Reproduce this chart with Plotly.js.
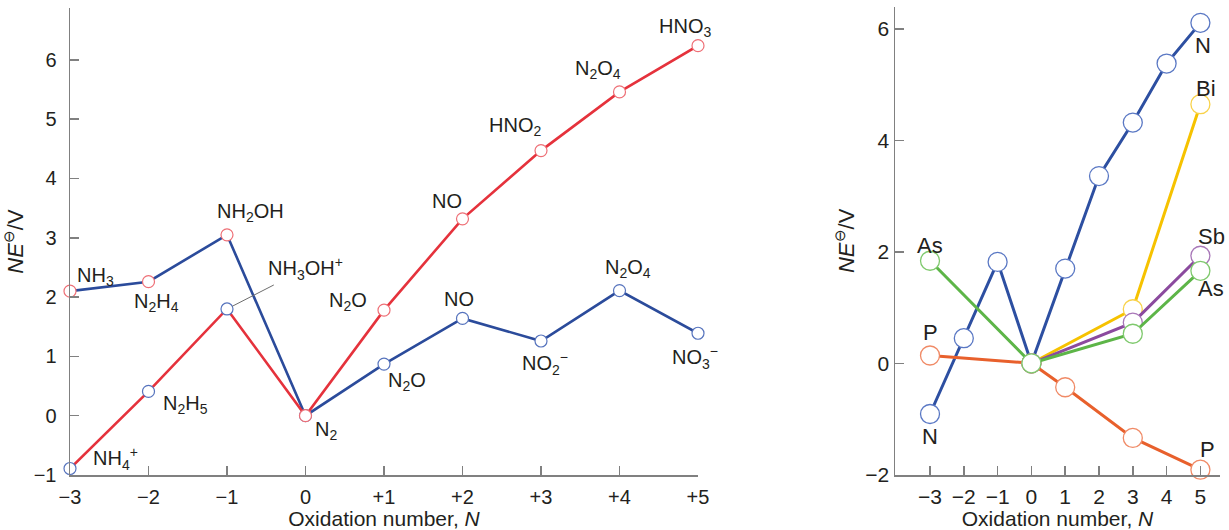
<!DOCTYPE html>
<html>
<head>
<meta charset="utf-8">
<script src="https://cdn.plot.ly/plotly-3.0.1.min.js"></script>
<style>html,body{margin:0;padding:0;background:#fff;}#chart{width:1229px;height:530px;}</style>
</head>
<body>
<div id="chart"></div>
<script>
// ---------- DATA ----------
// Left panel: Frost diagram of nitrogen
const oxidationLeft = [-3, -2, -1, 0, 1, 2, 3, 4, 5];
const oxidationLeftTicks = ['\u22123', '\u22122', '\u22121', '0', '+1', '+2', '+3', '+4', '+5'];
const acidNE  = [-0.89, 0.41, 1.80, 0, 1.78, 3.32, 4.47, 5.46, 6.24];
const basicNE = [2.10, 2.26, 3.05, 0, 0.87, 1.64, 1.26, 2.11, 1.39];
const acidSpecies = ['NH<sub>4</sub><sup>+</sup>', 'N<sub>2</sub>H<sub>5</sub>', 'NH<sub>3</sub>OH<sup>+</sup>', 'N<sub>2</sub>',
                     'N<sub>2</sub>O', 'NO', 'HNO<sub>2</sub>', 'N<sub>2</sub>O<sub>4</sub>', 'HNO<sub>3</sub>'];
const basicSpecies = ['NH<sub>3</sub>', 'N<sub>2</sub>H<sub>4</sub>', 'NH<sub>2</sub>OH', '',
                      'N<sub>2</sub>O', 'NO', 'NO<sub>2</sub><sup>\u2212</sup>', 'N<sub>2</sub>O<sub>4</sub>', 'NO<sub>3</sub><sup>\u2212</sup>'];

// Right panel: group 15 elements
const oxidationRightTicks = [-3, -2, -1, 0, 1, 2, 3, 4, 5];
const nitrogenN  = [-3, -2, -1, 0, 1, 2, 3, 4, 5];
const nitrogenNE = [-0.91, 0.45, 1.82, 0, 1.70, 3.36, 4.32, 5.38, 6.11];
const phosphorusN  = [-3, 0, 1, 3, 5];
const phosphorusNE = [0.14, 0, -0.43, -1.34, -1.91];
const arsenicN  = [-3, 0, 3, 5];
const arsenicNE = [1.84, 0, 0.53, 1.66];
const antimonyN  = [0, 3, 5];
const antimonyNE = [0, 0.73, 1.93];
const bismuthN  = [0, 3, 5];
const bismuthNE = [0, 0.97, 4.65];
const elementNames = ['N', 'P', 'As', 'Sb', 'Bi'];

// ---------- STYLE ----------
const RED = '#e5323c', BLUE = '#2b4b9b';
const RED_M = '#ee6f76', BLUE_M = '#5673bd';
const AX = '#808080';
const TXT = '#231f20';
const FONT = 'Liberation Sans, Arial, Helvetica, sans-serif';

function leftTrace(y, lineColor, posColor, negColor) {
  return {
    type: 'scatter', mode: 'lines+markers', x: oxidationLeft, y: y,
    xaxis: 'x', yaxis: 'y', cliponaxis: false, hoverinfo: 'skip',
    line: {color: lineColor, width: 2.6},
    marker: {size: 12, color: '#ffffff',
             line: {width: 1.2, color: oxidationLeft.map(v => v < 0 ? negColor : posColor)}}
  };
}
function rightTrace(x, y, lineColor, markerColor) {
  return {
    type: 'scatter', mode: 'lines+markers', x: x, y: y,
    xaxis: 'x2', yaxis: 'y2', cliponaxis: false, hoverinfo: 'skip',
    line: {color: lineColor, width: 3},
    marker: {size: 19, color: '#ffffff', line: {width: 1.3, color: markerColor}}
  };
}

const traces = [
  leftTrace(basicNE, BLUE, BLUE_M, RED_M),
  leftTrace(acidNE, RED, RED_M, BLUE_M),
  rightTrace(nitrogenN, nitrogenNE, '#2d4fa1', '#5a78c4'),
  rightTrace(phosphorusN, phosphorusNE, '#e8602c', '#f08a66'),
  rightTrace(bismuthN, bismuthNE, '#f6c200', '#f8d24a'),
  rightTrace(antimonyN, antimonyNE, '#8b4a9e', '#a877b8'),
  rightTrace(arsenicN, arsenicNE, '#5db548', '#7fc96d')
];

// label offsets in pixels (dx right, dy up) relative to each point
const acidOffsets  = [[45, 10], [37, -13], null, [20, -15], [-36, 9], [-16, 18], [-26, 24], [-22, 22], [-13, 18]];
const basicOffsets = [[25, 15], [8, -21], [23, 22], null, [23, -17], [-4, 19], [4, -23], [8, 22], [-3, -24]];
const LABEL_SIZE = 20;

const annotations = [];
function addLabel(x, y, text, dx, dy, xa, ya, size) {
  annotations.push({x: x, y: y, xref: xa, yref: ya, text: text, showarrow: false,
    xshift: dx, yshift: dy, font: {size: size, color: TXT, family: FONT}});
}
oxidationLeft.forEach((n, i) => {
  if (acidOffsets[i]) addLabel(n, acidNE[i], acidSpecies[i], acidOffsets[i][0], acidOffsets[i][1], 'x', 'y', LABEL_SIZE);
  if (basicOffsets[i]) addLabel(n, basicNE[i], basicSpecies[i], basicOffsets[i][0], basicOffsets[i][1], 'x', 'y', LABEL_SIZE);
});
// NH3OH+ with leader line
annotations.push({x: oxidationLeft[2], y: acidNE[2], xref: 'x', yref: 'y', text: acidSpecies[2],
  showarrow: true, arrowhead: 0, arrowwidth: 1, arrowcolor: '#6d6d6d', standoff: 6,
  ax: 78, ay: -40, font: {size: LABEL_SIZE, color: TXT, family: FONT}});

// right panel element labels
const last = a => a[a.length - 1];
addLabel(5, last(nitrogenNE), elementNames[0], 3, -23, 'x2', 'y2', 22);
addLabel(-3, nitrogenNE[0], elementNames[0], 0, -23, 'x2', 'y2', 22);
addLabel(-3, phosphorusNE[0], elementNames[1], 0, 23, 'x2', 'y2', 22);
addLabel(5, last(phosphorusNE), elementNames[1], 7, 20, 'x2', 'y2', 22);
addLabel(-3, arsenicNE[0], elementNames[2], 0, 15, 'x2', 'y2', 22);
addLabel(5, last(arsenicNE), elementNames[2], 11, -18, 'x2', 'y2', 22);
addLabel(5, last(antimonyNE), elementNames[3], 11, 19, 'x2', 'y2', 22);
addLabel(5, last(bismuthNE), elementNames[4], 6, 16, 'x2', 'y2', 22);

const axisCommon = {
  showline: true, linecolor: AX, linewidth: 1.5, showgrid: false, zeroline: false,
  ticks: 'inside', ticklen: 9, tickwidth: 1.5, tickcolor: AX, automargin: false
};
const yTitle = '<i>NE</i><sup>\u2296</sup>/V';

const layout = {
  width: 1229, height: 530,
  margin: {l: 0, r: 0, t: 0, b: 0},
  paper_bgcolor: '#ffffff', plot_bgcolor: 'rgba(0,0,0,0)',
  showlegend: false,
  font: {family: FONT, color: TXT},
  xaxis: Object.assign({}, axisCommon, {
    domain: [70 / 1229, 698 / 1229], range: [-3, 5], anchor: 'y',
    tickmode: 'array', tickvals: oxidationLeft, ticktext: oxidationLeftTicks,
    tickfont: {size: 20, color: TXT}, ticklabelstandoff: 3,
    title: {text: 'Oxidation number, <i>N</i>', font: {size: 21, color: TXT}, standoff: 2}
  }),
  yaxis: Object.assign({}, axisCommon, {
    domain: [55 / 530, 522 / 530], range: [-1, 6.875], anchor: 'x',
    tickmode: 'linear', tick0: 0, dtick: 1,
    tickfont: {size: 20, color: TXT}, ticklabelstandoff: 8,
    title: {text: yTitle, font: {size: 22, color: TXT}, standoff: 10}
  }),
  xaxis2: Object.assign({}, axisCommon, {
    domain: [895 / 1229, 1220 / 1229], range: [-4.036, 5.58], anchor: 'y2',
    tickmode: 'array', tickvals: oxidationRightTicks,
    tickfont: {size: 21, color: TXT}, ticklabelstandoff: 2,
    title: {text: 'Oxidation number, <i>N</i>', font: {size: 21, color: TXT}, standoff: 0}
  }),
  yaxis2: Object.assign({}, axisCommon, {
    domain: [55 / 530, 523.3 / 530], range: [-2.005, 6.40], anchor: 'x2',
    tickmode: 'linear', tick0: 0, dtick: 2,
    tickfont: {size: 21, color: TXT}, ticklabelstandoff: 0,
    title: {text: yTitle, font: {size: 22, color: TXT}, standoff: 4}
  }),
  annotations: annotations
};

Plotly.newPlot('chart', traces, layout, {displayModeBar: false, staticPlot: true});
</script>
</body>
</html>
